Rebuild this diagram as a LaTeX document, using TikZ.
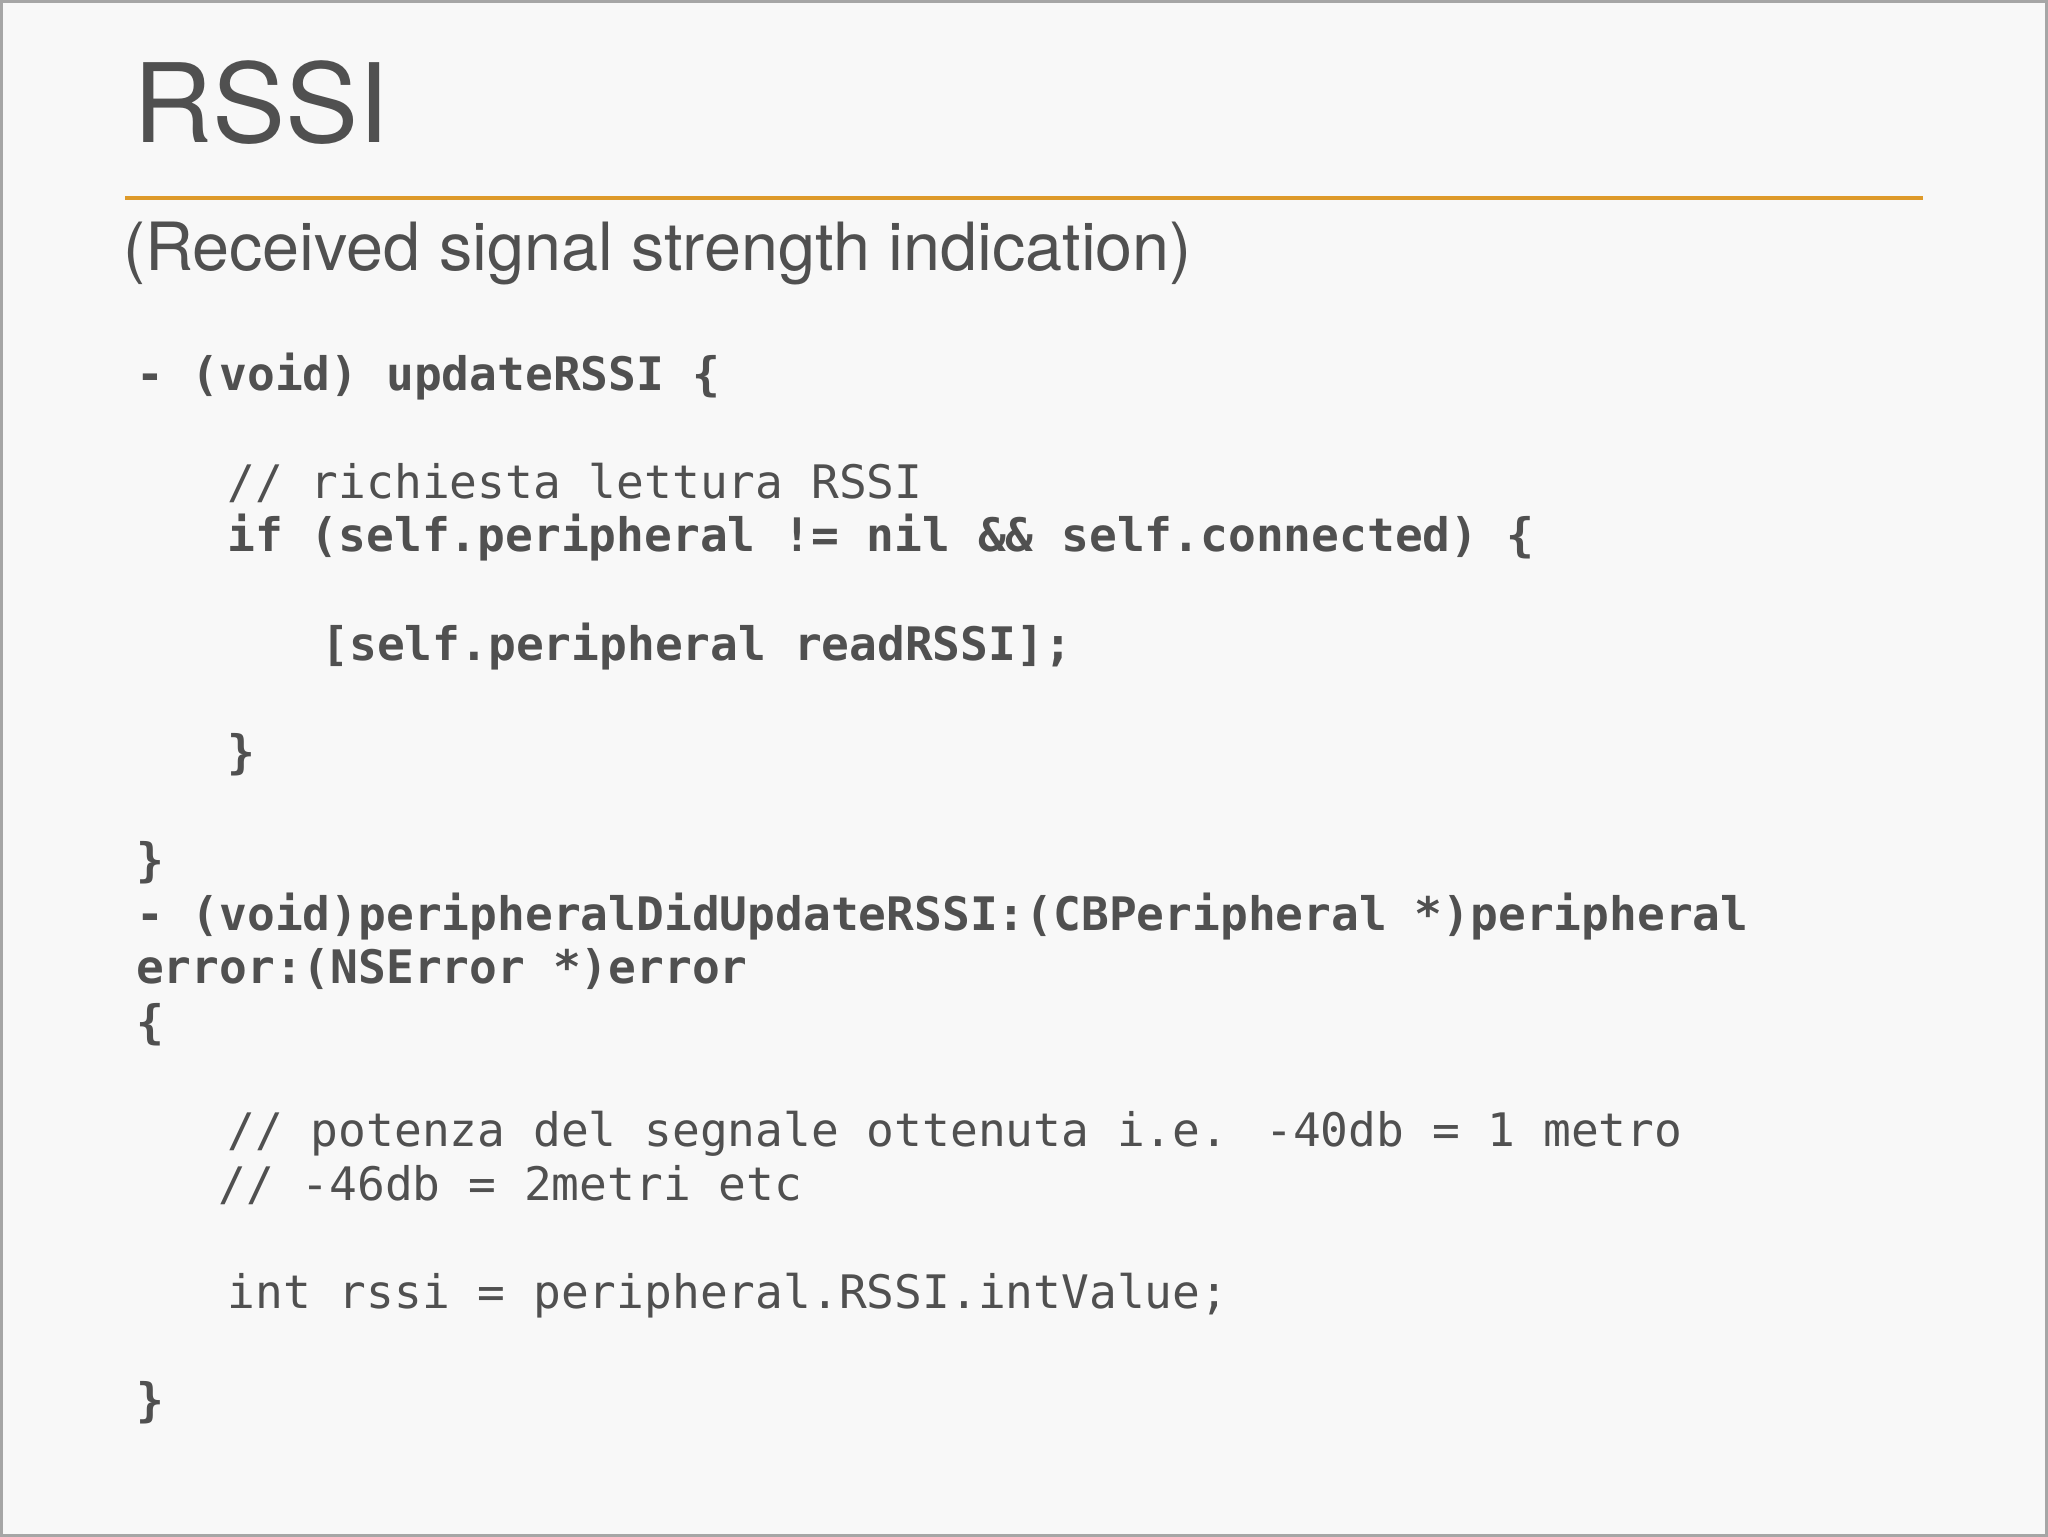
\documentclass[tikz,border=0pt]{standalone}
\usepackage{fontspec}
\setmainfont{TeX Gyre Heros}
\newfontfamily\cm{DejaVu Sans Mono}
\definecolor{txt}{HTML}{505050}
\definecolor{bg}{HTML}{F8F8F8}
\definecolor{rule}{HTML}{DE9A2A}
\begin{document}
\begin{tikzpicture}[x=0.5pt,y=-0.5pt,
  codeb/.style={anchor=base west,inner sep=0pt,text=txt,font=\cm\fontsize{17.7pt}{20pt}\selectfont\bfseries},
  codec/.style={anchor=base west,inner sep=0pt,text=txt,font=\cm\fontsize{17.7pt}{20pt}\selectfont}]
\fill[bg,draw=gray!70,line width=1pt] (0,0) rectangle (1568,1176);
\useasboundingbox (0,0) rectangle (1568,1176);
\node[anchor=base west,inner sep=0pt,text=txt,font=\fontsize{42pt}{48pt}\selectfont] (title) at (101,108) {RSSI};
\draw[rule,line width=1.5pt] (95,151) coordinate (r1) -- (1473,151) coordinate (r2);
\node[anchor=base west,inner sep=0pt,text=txt,font=\fontsize{25.5pt}{30pt}\selectfont] (sub) at (93,206) {(Received signal strength indication)};
\node[codeb] (l1) at (103,298) {- (void) updateRSSI \{};
\node[codec] (l2) at (173,381) {// richiesta lettura RSSI};
\node[codeb] (l3) at (173,422) {if (self.peripheral != nil \&\& self.connected) \{};
\node[codeb] (l4) at (245,505) {[self.peripheral readRSSI];};
\node[codeb] (l5) at (173,588) {\}};
\node[codeb] (l6) at (103,671) {\}};
\node[codeb] (l7) at (103,712) {- (void)peripheralDidUpdateRSSI:(CBPeripheral *)peripheral};
\node[codeb] (l8) at (103,753) {error:(NSError *)error};
\node[codeb] (l9) at (103,795) {\{};
\node[codec] (l10) at (173,878) {// potenza del segnale ottenuta i.e. -40db = 1 metro};
\node[codec] (l11) at (166,919) {// -46db = 2metri etc};
\node[codec] (l12) at (173,1002) {int rssi = peripheral.RSSI.intValue;};
\node[codeb] (l13) at (103,1085) {\}};
\end{tikzpicture}
\end{document}
